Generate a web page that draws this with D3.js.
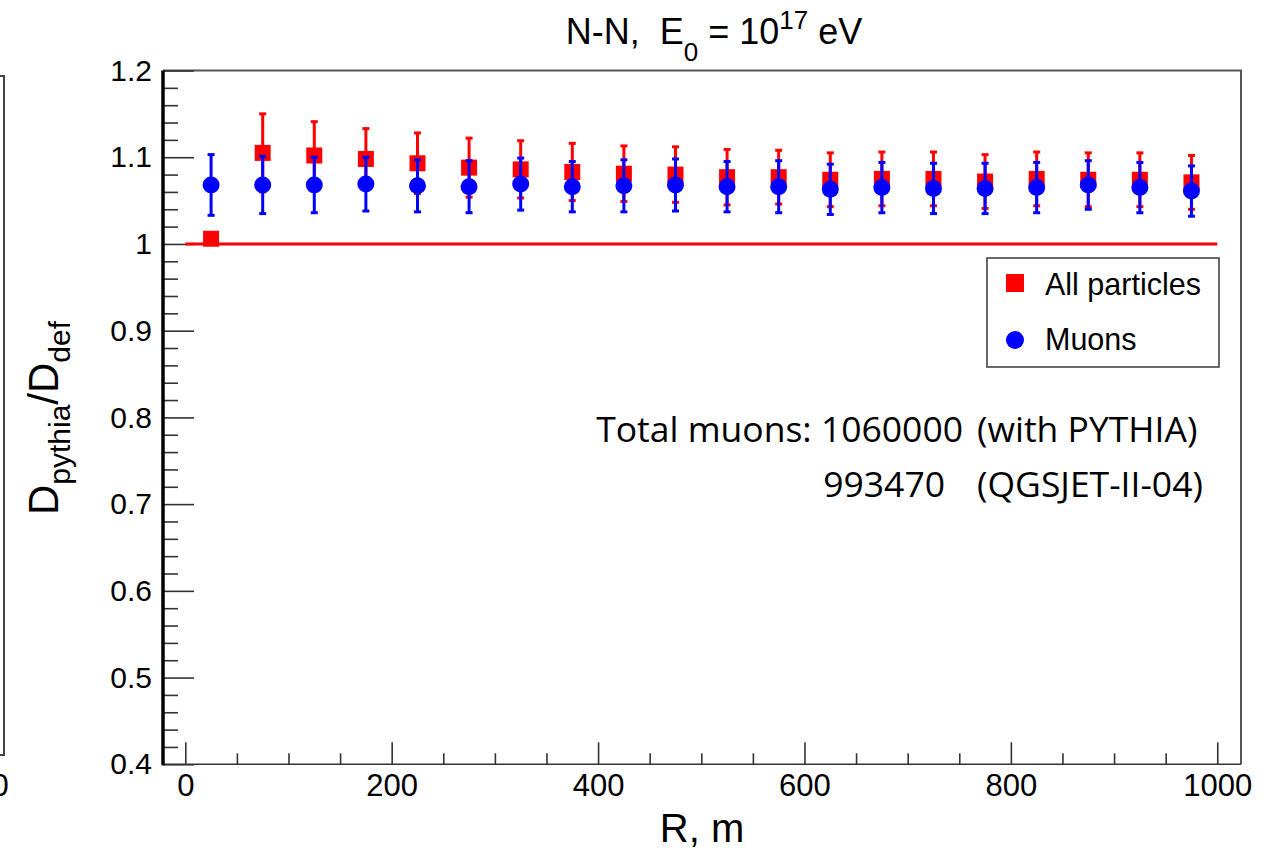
<!DOCTYPE html>
<html>
<head>
<meta charset="utf-8">
<script src="https://cdn.jsdelivr.net/npm/d3@7"></script>
<style>
  body { margin: 0; background: #fff; }
  svg { display: block; }
  text { font-family: "Liberation Sans", Arial, sans-serif; fill: #000; }
</style>
</head>
<body>
<div id="chart"></div>
<script>
// data
var rValues = [25, 75, 125, 175, 225, 275, 325, 375, 425, 475, 525, 575, 625, 675, 725, 775, 825, 875, 925, 975];
var allVals = [1.006, 1.105, 1.102, 1.098, 1.093, 1.088, 1.086, 1.083, 1.081, 1.080, 1.077, 1.077, 1.074, 1.075, 1.075, 1.072, 1.075, 1.074, 1.074, 1.071];
var allErr  = [0.002, 0.045, 0.039, 0.035, 0.035, 0.034, 0.033, 0.033, 0.032, 0.032, 0.032, 0.031, 0.031, 0.031, 0.031, 0.031, 0.031, 0.031, 0.031, 0.031];
var muonVals = [1.068, 1.068, 1.068, 1.069, 1.067, 1.066, 1.069, 1.066, 1.067, 1.068, 1.066, 1.066, 1.063, 1.065, 1.064, 1.064, 1.065, 1.068, 1.065, 1.061];
var muonErr  = [0.035, 0.033, 0.032, 0.031, 0.030, 0.030, 0.030, 0.029, 0.030, 0.030, 0.029, 0.030, 0.029, 0.029, 0.029, 0.029, 0.029, 0.028, 0.029, 0.029];
var xMajor = [0, 200, 400, 600, 800, 1000];
var xMinor = [50, 100, 150, 250, 300, 350, 450, 500, 550, 650, 700, 750, 850, 900, 950];
var yMajor = [0.4, 0.5, 0.6, 0.7, 0.8, 0.9, 1.0, 1.1, 1.2];
var yMinor = [0.42, 0.44, 0.46, 0.48, 0.52, 0.54, 0.56, 0.58, 0.62, 0.64, 0.66, 0.68,
              0.72, 0.74, 0.76, 0.78, 0.82, 0.84, 0.86, 0.88, 0.92, 0.94, 0.96, 0.98,
              1.02, 1.04, 1.06, 1.08, 1.12, 1.14, 1.16, 1.18];
var legendNames = ["All particles", "Muons"];

var svg_width = 1273, svg_height = 852;
var frame = {left: 163, right: 1241, top: 70.5, bottom: 764.3};

var svg = d3.select("#chart").append("svg")
    .attr("width", svg_width)
    .attr("height", svg_height);

var x = d3.scaleLinear().domain([-21.6, 1023]).range([frame.left, frame.right]);
var y = d3.scaleLinear().domain([0.4, 1.2]).range([frame.bottom, frame.top]);

// leftover edge of the neighbouring pad (its "0" label is cut by the page edge)
svg.append("path")
    .attr("d", "M0,76H4V755H0")
    .attr("fill", "none").attr("stroke", "#444").attr("stroke-width", 2);
svg.append("text").attr("x", 0).attr("y", 796)
    .attr("text-anchor", "middle").style("font-size", "31px").text("0");

// frame (top and right)
svg.append("path")
    .attr("d", "M" + frame.left + "," + frame.top + "H" + frame.right + "V" + frame.bottom)
    .attr("fill", "none").attr("stroke", "#555").attr("stroke-width", 2);

// x axis
var gx = svg.append("g").attr("transform", "translate(0," + frame.bottom + ")");
gx.call(d3.axisBottom(x).tickValues(xMajor).tickFormat(d3.format("d"))
    .tickSizeInner(-22).tickSizeOuter(0).tickPadding(10));
gx.append("g").call(d3.axisBottom(x).tickValues(xMinor).tickFormat("")
    .tickSizeInner(-11).tickSizeOuter(0));
gx.selectAll(".domain").remove();
gx.append("line").attr("x1", frame.left).attr("x2", frame.right)
    .attr("stroke", "#444").attr("stroke-width", 2);
gx.selectAll("line").attr("stroke-width", 1.6).attr("stroke", "#333");
gx.selectAll("text").style("font-size", "31px").attr("fill", "#000");

// y axis
var gy = svg.append("g").attr("transform", "translate(" + frame.left + ",0)");
gy.call(d3.axisLeft(y).tickValues(yMajor).tickFormat(d => d3.format("")(+d.toFixed(1)))
    .tickSizeInner(-31).tickSizeOuter(0).tickPadding(11));
gy.append("g").call(d3.axisLeft(y).tickValues(yMinor).tickFormat("")
    .tickSizeInner(-15).tickSizeOuter(0));
gy.selectAll(".domain").remove();
gy.selectAll("line").attr("stroke-width", 1.6).attr("stroke", "#333");
gy.append("line").attr("y1", frame.top).attr("y2", frame.bottom + 1)
    .attr("stroke", "#000").attr("stroke-width", 3.5);
gy.selectAll("text").style("font-size", "30px").attr("fill", "#000");

// reference line at 1
svg.append("line")
    .attr("x1", x(0)).attr("x2", x(1000))
    .attr("y1", y(1)).attr("y2", y(1))
    .attr("stroke", "#ff0000").attr("stroke-width", 3);

function drawSeries(vals, errs, color, shape) {
    var g = svg.append("g");
    var pts = rValues.map((r, i) => ({r: r, v: vals[i], e: errs[i]}));
    g.selectAll("line.bar").data(pts).join("line").attr("class", "bar")
        .attr("x1", d => x(d.r)).attr("x2", d => x(d.r))
        .attr("y1", d => y(d.v - d.e)).attr("y2", d => y(d.v + d.e))
        .attr("stroke", color).attr("stroke-width", 3);
    [-1, 1].forEach(function(s) {
        g.selectAll("line.cap" + (s + 1)).data(pts).join("line").attr("class", "cap" + (s + 1))
            .attr("x1", d => x(d.r) - 3.5).attr("x2", d => x(d.r) + 3.5)
            .attr("y1", d => y(d.v + s * d.e)).attr("y2", d => y(d.v + s * d.e))
            .attr("stroke", color).attr("stroke-width", 3);
    });
    if (shape == "square") {
        g.selectAll("rect").data(pts).join("rect")
            .attr("x", d => x(d.r) - 8).attr("y", d => y(d.v) - 8)
            .attr("width", 16).attr("height", 16)
            .attr("fill", color);
    } else {
        g.selectAll("circle").data(pts).join("circle")
            .attr("cx", d => x(d.r)).attr("cy", d => y(d.v))
            .attr("r", 8.5).attr("fill", color);
    }
}
drawSeries(allVals, allErr, "#ff0000", "square");
drawSeries(muonVals, muonErr, "#0000ff", "circle");

// legend
var leg = svg.append("g");
leg.append("rect").attr("x", 987).attr("y", 258).attr("width", 232).attr("height", 109)
    .attr("fill", "#fff").attr("stroke", "#444").attr("stroke-width", 1.6);
leg.append("rect").attr("x", 1006).attr("y", 274).attr("width", 18).attr("height", 18).attr("fill", "#ff0000");
leg.append("circle").attr("cx", 1015).attr("cy", 340).attr("r", 9).attr("fill", "#0000ff");
leg.selectAll("text.lg").data(legendNames).join("text").attr("class", "lg")
    .attr("x", 1045).attr("y", (d, i) => 295 + i * 55)
    .style("font-size", "30.5px").text(d => d);

// annotation
var note = svg.append("g").style("font-family", "'Open Sans', 'Noto Sans', sans-serif").style("font-size", "35.5px");
note.append("text").attr("x", 963).attr("y", 442).attr("text-anchor", "end")
    .style("font-family", "inherit").text("Total muons: 1060000");
note.append("text").attr("x", 977).attr("y", 442)
    .style("font-family", "inherit").text("(with PYTHIA)");
note.append("text").attr("x", 945).attr("y", 497).attr("text-anchor", "end")
    .style("font-family", "inherit").text("993470");
note.append("text").attr("x", 977).attr("y", 497)
    .style("font-family", "inherit").text("(QGSJET-II-04)");

// title
var title = svg.append("text").attr("x", 714).attr("y", 44)
    .attr("text-anchor", "middle").style("font-size", "36px");
title.append("tspan").text("N-N,\u00a0\u00a0E");
title.append("tspan").attr("dy", 17).style("font-size", "26px").text("0");
title.append("tspan").attr("dy", -17).text(" = 10");
title.append("tspan").attr("dy", -15).style("font-size", "26px").text("17");
title.append("tspan").attr("dy", 15).text(" eV");

// axis titles
svg.append("text").attr("x", 702).attr("y", 842)
    .attr("text-anchor", "middle").style("font-size", "40px").text("R, m");

var yt = svg.append("text").attr("transform", "translate(58,418) rotate(-90)")
    .attr("text-anchor", "middle").style("font-size", "42px");
yt.append("tspan").text("D");
yt.append("tspan").attr("dy", 12).style("font-size", "30px").text("pythia");
yt.append("tspan").attr("dy", -12).text("/D");
yt.append("tspan").attr("dy", 12).style("font-size", "30px").text("def");
</script>
</body>
</html>
